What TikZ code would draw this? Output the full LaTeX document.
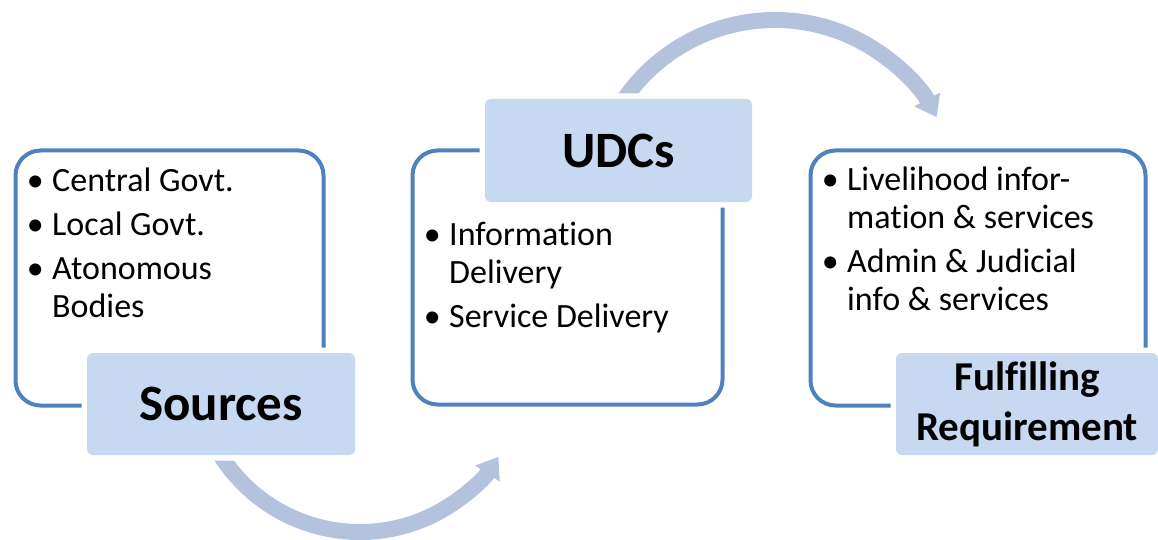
\documentclass[tikz,border=0pt]{standalone}
\usepackage{fontspec}
\setmainfont{Carlito}[Ligatures=NoCommon]
\usetikzlibrary{arrows.meta}
\definecolor{outl}{HTML}{4F81BD}
\definecolor{lab}{HTML}{C6D9F1}
\definecolor{arr}{HTML}{B3C3DD}
\newcommand{\mybul}{\llap{•\hspace{8.5pt}}}
\begin{document}
\begin{tikzpicture}[x=1pt,y=-1pt,
  frame/.style={draw=outl, line width=4pt, rounded corners=25pt},
  labelbox/.style={fill=lab, rounded corners=6pt,
    preaction={draw=white, line width=11pt, rounded corners=6pt},
    inner sep=0pt, align=center, font=\bfseries\fontsize{51}{55}\selectfont},
  item/.style={anchor=base west, inner sep=0pt, align=left, font=\fontsize{34}{37.5}\selectfont},
  flow/.style={draw=arr, line width=16pt, -{Triangle[width=28pt,length=20pt]}}
]
\useasboundingbox (0,0) rectangle (1158,540);
% flow arrows
\coordinate (b0) at (217.1,449.5);
\draw[flow] (b0) arc[start angle=150, end angle=33, radius=165];
\coordinate (t0) at (616.5,111.5);
\draw[flow] (t0) arc[start angle=-150, end angle=-28, radius=183];
% frames
\draw[frame] (15.5,150.5) rectangle (323.5,405.5);
\draw[frame] (412.5,150.5) rectangle (722.5,404.5);
\draw[frame] (810.5,150.5) rectangle (1145.5,405.5);
% labels
\node[labelbox, minimum width=268pt, minimum height=102pt] (src) at (221,404) {Sources};
\node[labelbox, minimum width=267pt, minimum height=103pt] (udc) at (618.5,150.5) {UDCs};
\node[labelbox, minimum width=262pt, minimum height=102pt, font=\bfseries\fontsize{41}{50}\selectfont] (ful) at (1027,404) {Fulfilling\\Requirement};
% items (base anchor = baseline of the last line)
\node[item] (s1) at (52,192) {\mybul Central Govt.};
\node[item] (s2) at (52,235) {\mybul Local Govt.};
\node[item] (s3) at (52,317) {\mybul Atonomous\\Bodies};
\node[item] (u1) at (449,283) {\mybul Information\\Delivery};
\node[item] (u2) at (449,327) {\mybul Service Delivery};
\node[item] (f1) at (847,228) {\mybul Livelihood infor-\\mation \& services};
\node[item] (f2) at (847,310) {\mybul Admin \& Judicial\\info \& services};
\end{tikzpicture}
\end{document}
